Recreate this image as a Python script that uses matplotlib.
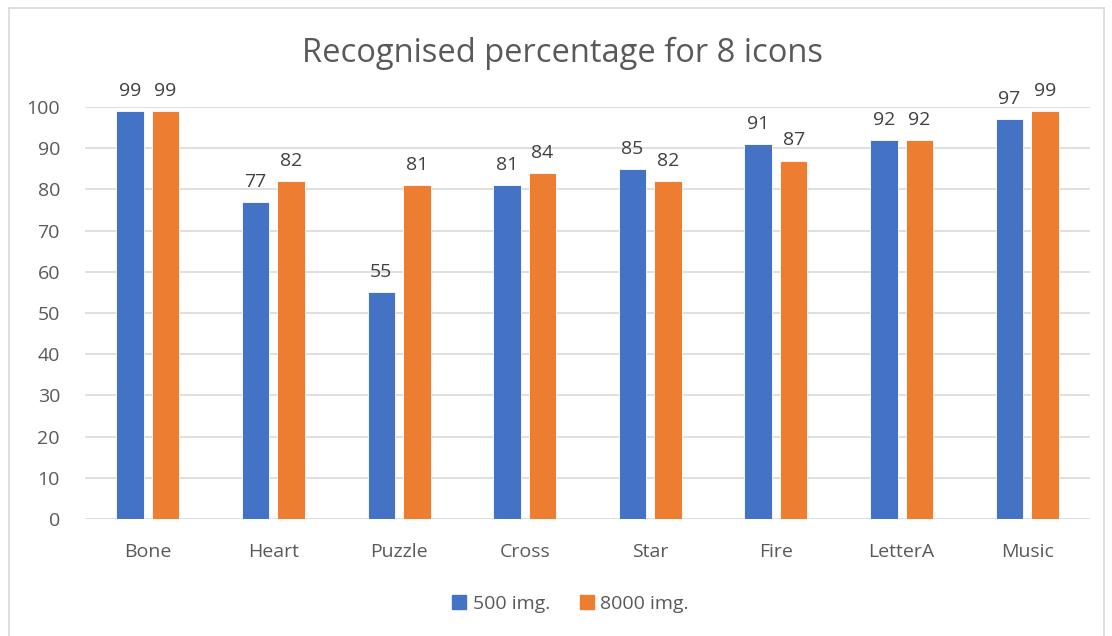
import matplotlib
matplotlib.use("Agg")
import matplotlib.pyplot as plt
import numpy as np
from matplotlib.lines import Line2D

categories = ["Bone", "Heart", "Puzzle", "Cross", "Star", "Fire", "LetterA", "Music"]
series_500 = [99, 77, 55, 81, 85, 91, 92, 97]
series_8000 = [99, 82, 81, 84, 82, 87, 92, 99]
series_names = ["500 img.", "8000 img."]
yticks = list(range(0, 101, 10))

BLUE = "#4472C4"
ORANGE = "#ED7D31"
TEXT = "#595959"
GRID = "#D9D9D9"

plt.rcParams["font.family"] = ["Open Sans", "DejaVu Sans"]

W, H = 1112, 636
fig = plt.figure(figsize=(W / 100, H / 100), dpi=100)
ax = fig.add_axes([85 / W, 1 - 519 / H, (1090 - 85) / W, (519 - 107) / H])

x = np.arange(len(categories))
width = 0.219
off = 0.141
b1 = ax.bar(x - off, series_500, width, color=BLUE, edgecolor="white", linewidth=0.6, zorder=3)
b2 = ax.bar(x + off, series_8000, width, color=ORANGE, edgecolor="white", linewidth=0.6, zorder=3)

for bars in (b1, b2):
    ax.bar_label(bars, labels=[str(v) for v in bars.datavalues], padding=8,
                 fontsize=14, color="#404040")

ax.set_xlim(-0.5, len(categories) - 0.5)
ax.set_ylim(0, 100)
ax.set_yticks(yticks)
ax.set_xticks(x)
ax.set_xticklabels(categories)
ax.tick_params(axis="both", length=0, labelsize=14, labelcolor=TEXT)
ax.tick_params(axis="x", pad=17)
ax.tick_params(axis="y", pad=18)
ax.grid(axis="y", color=GRID, linewidth=1.2, zorder=0)
for s in ax.spines.values():
    s.set_visible(False)

fig.text(563 / W, 1 - 53 / H, "Recognised percentage for 8 icons", ha="center", va="center",
         fontsize=23.5, color=TEXT)

handles = [Line2D([], [], marker="s", linestyle="none", markersize=10, color=c) for c in (BLUE, ORANGE)]
fig.legend(handles, series_names, loc="center", bbox_to_anchor=(569 / W, 1 - 604 / H),
           ncol=2, frameon=False, fontsize=14, labelcolor=TEXT, handletextpad=0.2,
           columnspacing=1.4, handlelength=1.0)

# chart border
bx0, bx1, by1 = 9 / W, 1104 / W, 1 - 8 / H
for xs, ys in (([bx0, bx0], [0, by1]), ([bx0, bx1], [by1, by1]), ([bx1, bx1], [by1, 0])):
    fig.add_artist(Line2D(xs, ys, color=GRID, linewidth=1.2, transform=fig.transFigure))

fig.savefig("out.png", dpi=100, facecolor="white")
